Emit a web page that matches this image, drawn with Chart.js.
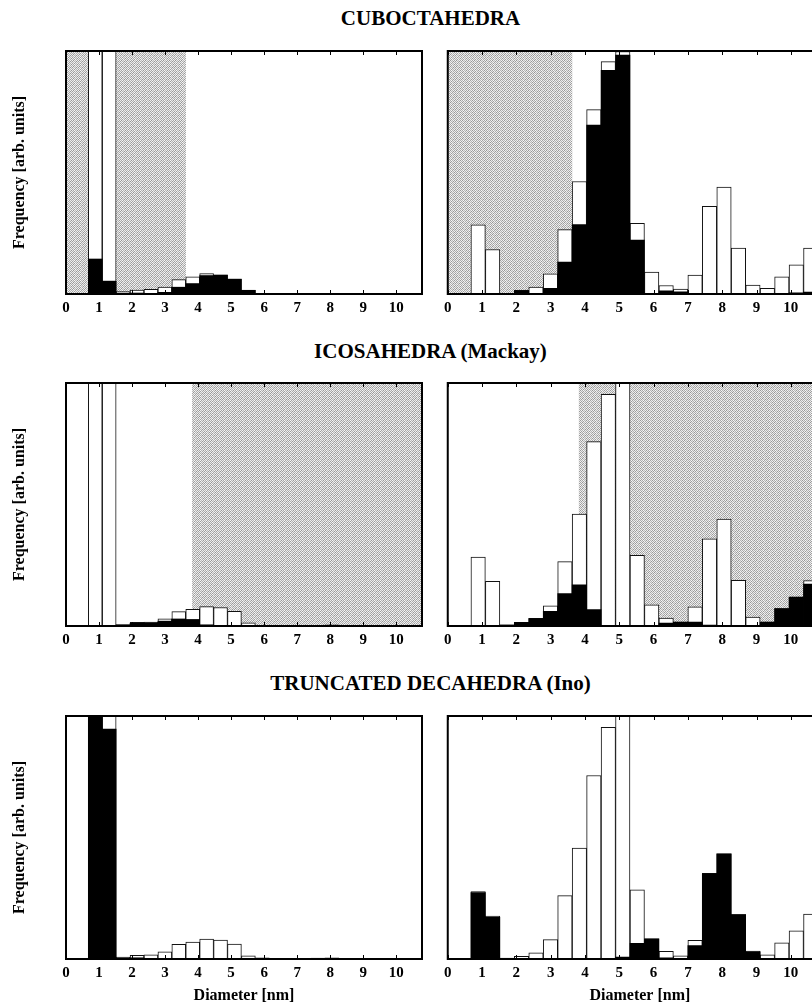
<!DOCTYPE html>
<html>
<head>
<meta charset="utf-8">
<script src="https://cdn.jsdelivr.net/npm/chart.js@4.4.1/dist/chart.umd.min.js"></script>
<style>
    body {
        margin: 0;
        width: 812px;
        height: 1006px;
        overflow: hidden;
        position: relative;
        background: #fff;
    }
    .row-title {
        position: absolute;
        left: 0;
        width: 861px;
        text-align: center;
        font: bold 21px/21px "Liberation Serif", "Times New Roman", serif;
        color: #000;
        white-space: nowrap;
    }
    canvas {
        position: absolute;
    }
</style>
</head>
<body>
<div class="row-title" style="top:8px">CUBOCTAHEDRA</div>
<div class="row-title" style="top:341px">ICOSAHEDRA (Mackay)</div>
<div class="row-title" style="top:673px">TRUNCATED DECAHEDRA (Ino)</div>

<canvas id="cuboSmall" width="432" height="280" style="left:0; top:45px"></canvas>
<canvas id="cuboLarge" width="405" height="280" style="left:437px; top:45px"></canvas>
<canvas id="icoSmall" width="432" height="280" style="left:0; top:377px"></canvas>
<canvas id="icoLarge" width="405" height="280" style="left:437px; top:377px"></canvas>
<canvas id="tdSmall" width="432" height="296" style="left:0; top:710px"></canvas>
<canvas id="tdLarge" width="405" height="296" style="left:437px; top:710px"></canvas>

<script>
// ===============================================
// DATA
// ===============================================
const tickValues = [0, 1, 2, 3, 4, 5, 6, 7, 8, 9, 10];

// bin centres (nm), bins ~0.42 nm wide
const binCenters = [0.886, 1.308, 1.729, 2.151, 2.572, 2.994, 3.415, 3.837, 4.258, 4.680, 5.101, 5.523,
                    5.944, 6.366, 6.787, 7.209, 7.630, 8.052, 8.473, 8.895, 9.316, 9.738, 10.159, 10.581];

// shaded diameter ranges
const cuboShade = [0, 3.63];
const icoShade = [3.82, 12];

// frequency, % of frame height (values > 100 run off the top)
const cuboSmallWhite = [120, 120, 1.0, 1.6, 1.9, 2.8, 5.9, 7.1, 8.4, 7.8, 6.1, 1.6, 0.2, 0, 0, 0, 0.3, 0.3, 0, 0, 0, 0, 0, 0];
const cuboSmallBlack = [14.4, 5.3, 0.3, 0.4, 0, 0.7, 2.8, 4.3, 7.6, 7.8, 6.1, 1.5, 0, 0, 0, 0, 0, 0, 0, 0, 0, 0, 0, 0];
const cuboLargeWhite = [28.5, 18.3, 0, 1.5, 2.8, 8.3, 26.5, 46.3, 75.9, 95.6, 99.8, 29.1, 9.0, 3.5, 2.0, 7.8, 36.1, 44.0, 18.9, 3.7, 2.3, 7.1, 12.0, 18.9];
const cuboLargeBlack = [0.3, 0.3, 0, 1.3, 0, 2.3, 13.1, 28.6, 69.5, 92.0, 98.3, 22.2, 0, 1.3, 0.9, 0, 0, 0, 0, 0.3, 0.3, 0.3, 0.5, 0.8];

const icoSmallWhite = [120, 120, 0.5, 1.5, 1.6, 2.9, 5.9, 6.9, 8.0, 7.6, 6.0, 1.3, 0.3, 0.2, 0.2, 0.2, 0.3, 0.5, 0.2, 0, 0, 0, 0, 0];
const icoSmallBlack = [0, 0, 0.5, 1.1, 1.3, 2.0, 2.9, 2.7, 0.5, 0, 0, 0, 0, 0, 0, 0, 0, 0, 0, 0, 0, 0, 0, 0];
const icoLargeWhite = [28.4, 18.4, 0.5, 1.5, 3.2, 8.3, 26.5, 46.1, 75.9, 95.3, 110, 29.1, 8.7, 3.3, 1.6, 7.9, 35.9, 44.0, 18.8, 3.7, 1.6, 7.2, 11.9, 18.7];
const icoLargeBlack = [0, 0, 0.4, 1.5, 3.1, 6.0, 13.3, 16.9, 6.8, 0, 0, 0, 0, 1.2, 1.6, 1.6, 0.4, 0, 0, 0, 1.6, 7.2, 11.9, 17.2];

const tdSmallWhite = [120, 120, 0.8, 1.5, 1.7, 2.9, 6.0, 7.0, 8.2, 7.8, 6.1, 1.3, 0.5, 0.2, 0.2, 0.2, 0.4, 0.5, 0.2, 0, 0, 0, 0, 0];
const tdSmallBlack = [115, 94.6, 0.3, 0.5, 0, 0, 0, 0, 0, 0, 0, 0, 0, 0, 0, 0, 0, 0, 0, 0, 0, 0, 0, 0];
const tdLargeWhite = [27.7, 17.7, 0.4, 1.1, 2.5, 8.0, 26.1, 45.6, 75.5, 95.3, 110, 28.5, 8.3, 3.2, 1.3, 7.7, 35.3, 43.3, 18.3, 3.3, 1.7, 6.7, 11.6, 18.5];
const tdLargeBlack = [27.3, 17.1, 0.3, 0.2, 0, 0, 0.1, 0.3, 0, 0, 0.8, 6.4, 8.3, 0.5, 0, 5.5, 35.1, 43.3, 18.3, 2.9, 0, 0, 0, 0.3];

// ===============================================
// STYLE HELPERS
// ===============================================
const SERIF = '"Liberation Serif", "Times New Roman", serif';

// grey checker dither, looks like the scanned stipple
const STIPPLE = [
    [0xa0, 0xf0, 0x9c, 0xe8, 0xb4, 0xf4],
    [0xec, 0xa8, 0xf8, 0xb8, 0xe4, 0x98],
    [0xb0, 0xe6, 0xa0, 0xf2, 0xac, 0xee],
    [0xf4, 0x94, 0xea, 0xbc, 0xf0, 0xa4],
    [0x9c, 0xf0, 0xb4, 0xe2, 0x98, 0xea],
    [0xe8, 0xb8, 0xf6, 0xa4, 0xec, 0xb0]
];

function makeStipple(ctx) {
    const c = document.createElement('canvas');
    c.width = STIPPLE[0].length;
    c.height = STIPPLE.length;
    const g = c.getContext('2d');
    STIPPLE.forEach((row, j) => row.forEach((v, i) => {
        g.fillStyle = `rgb(${v},${v},${v})`;
        g.fillRect(i, j, 1, 1);
    }));
    return ctx.createPattern(c, 'repeat');
}

function shadePlugin(range) {
    return {
        id: 'shade',
        beforeDatasetsDraw(chart) {
            if (!range) return;
            const { ctx, chartArea: a, scales: { x } } = chart;
            const x0 = Math.max(a.left, x.getPixelForValue(range[0]));
            const x1 = Math.min(a.right, x.getPixelForValue(range[1]));
            ctx.save();
            ctx.fillStyle = makeStipple(ctx);
            ctx.fillRect(x0, a.top, x1 - x0, a.bottom - a.top);
            ctx.restore();
        }
    };
}

const framePlugin = {
    id: 'frame',
    afterDatasetsDraw(chart) {
        const { ctx, chartArea: a, scales: { x } } = chart;
        ctx.save();
        ctx.strokeStyle = '#000';
        ctx.lineWidth = 1;
        tickValues.forEach(v => {
            const px = Math.round(x.getPixelForValue(v)) + 0.5;
            ctx.beginPath();
            ctx.moveTo(px, a.top);
            ctx.lineTo(px, a.top + 4);
            ctx.moveTo(px, a.bottom);
            ctx.lineTo(px, a.bottom - 4);
            ctx.stroke();
        });
        ctx.lineWidth = 2;
        ctx.strokeRect(a.left, a.top, a.right - a.left, a.bottom - a.top);
        ctx.restore();
    }
};

// ===============================================
// PANELS
// ===============================================
function createPanel(canvasId, white, black, shade, side, showXTitle) {
    const ctx = document.getElementById(canvasId).getContext('2d');
    const left = side === 'left';

    return new Chart(ctx, {
        type: 'bar',
        data: {
            labels: binCenters,
            datasets: [
                {
                    data: black,
                    backgroundColor: '#000',
                    borderWidth: 0,
                    grouped: false,
                    categoryPercentage: 1,
                    barPercentage: 1
                },
                {
                    data: white,
                    backgroundColor: '#fff',
                    borderColor: '#111',
                    borderWidth: 1,
                    grouped: false,
                    categoryPercentage: 1,
                    barPercentage: 1
                }
            ]
        },
        options: {
            responsive: false,
            animation: false,
            events: [],
            layout: {
                padding: left
                    ? { left: 0, right: 10, top: 6, bottom: 2 }
                    : { left: 5, right: 10, top: 6, bottom: 2 }
            },
            plugins: {
                legend: { display: false },
                tooltip: { enabled: false }
            },
            scales: {
                x: {
                    type: 'linear',
                    min: 0,
                    max: left ? 10.78 : 11.2,
                    offset: false,
                    afterBuildTicks: scale => {
                        scale.ticks = tickValues.map(v => ({ value: v }));
                    },
                    grid: { display: false, drawTicks: false },
                    border: { display: false },
                    ticks: {
                        padding: 7,
                        color: '#000',
                        maxRotation: 0,
                        font: { family: SERIF, weight: 'bold', size: 15, lineHeight: 1 }
                    },
                    title: {
                        display: showXTitle,
                        text: 'Diameter [nm]',
                        color: '#000',
                        padding: 0,
                        font: { family: SERIF, weight: 'bold', size: 16, lineHeight: 1 }
                    }
                },
                y: {
                    display: left,
                    min: 0,
                    max: 100,
                    grid: { display: false, drawTicks: false },
                    border: { display: false },
                    ticks: { display: false },
                    title: {
                        display: true,
                        text: 'Frequency [arb. units]',
                        color: '#000',
                        padding: { top: 12, bottom: 38 },
                        font: { family: SERIF, weight: 'bold', size: 16, lineHeight: 1 }
                    }
                }
            }
        },
        plugins: [shadePlugin(shade), framePlugin]
    });
}

createPanel('cuboSmall', cuboSmallWhite, cuboSmallBlack, cuboShade, 'left', false);
createPanel('cuboLarge', cuboLargeWhite, cuboLargeBlack, cuboShade, 'right', false);
createPanel('icoSmall', icoSmallWhite, icoSmallBlack, icoShade, 'left', false);
createPanel('icoLarge', icoLargeWhite, icoLargeBlack, icoShade, 'right', false);
createPanel('tdSmall', tdSmallWhite, tdSmallBlack, null, 'left', true);
createPanel('tdLarge', tdLargeWhite, tdLargeBlack, null, 'right', true);
</script>
</body>
</html>
